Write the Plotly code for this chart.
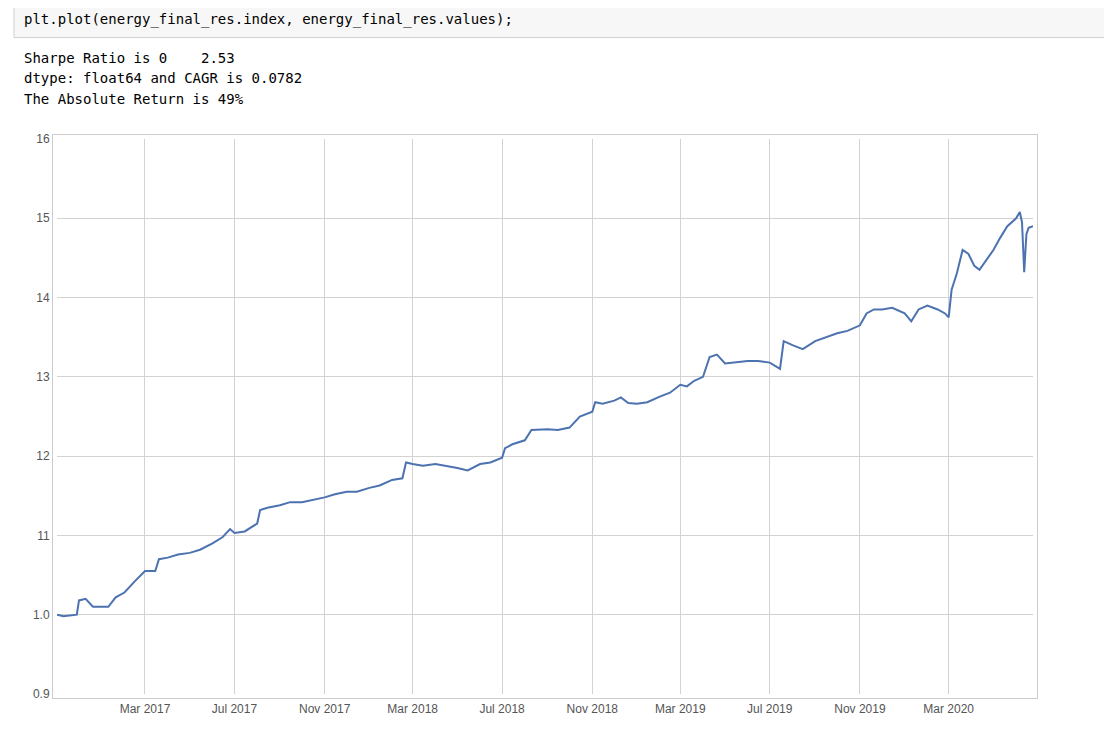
import plotly.graph_objects as go

dates = ["2016-11-01","2016-11-10","2016-11-28","2016-12-01","2016-12-10","2016-12-20","2017-01-01","2017-01-10","2017-01-20","2017-02-01","2017-02-15","2017-03-01","2017-03-15","2017-03-20","2017-04-01","2017-04-15","2017-05-01","2017-05-15","2017-06-01","2017-06-15","2017-06-25","2017-07-01","2017-07-15","2017-08-01","2017-08-05","2017-08-15","2017-09-01","2017-09-15","2017-10-01","2017-10-15","2017-11-01","2017-11-15","2017-12-01","2017-12-15","2018-01-01","2018-01-15","2018-02-01","2018-02-15","2018-02-20","2018-03-01","2018-03-15","2018-04-01","2018-04-15","2018-05-01","2018-05-15","2018-06-01","2018-06-15","2018-07-01","2018-07-05","2018-07-15","2018-08-01","2018-08-10","2018-09-01","2018-09-15","2018-10-01","2018-10-15","2018-11-01","2018-11-05","2018-11-15","2018-12-01","2018-12-10","2018-12-20","2019-01-01","2019-01-15","2019-02-01","2019-02-15","2019-03-01","2019-03-10","2019-03-20","2019-04-01","2019-04-10","2019-04-20","2019-05-01","2019-05-15","2019-06-01","2019-06-15","2019-07-01","2019-07-15","2019-07-20","2019-08-01","2019-08-15","2019-09-01","2019-09-15","2019-10-01","2019-10-15","2019-11-01","2019-11-10","2019-11-20","2019-12-01","2019-12-15","2020-01-01","2020-01-10","2020-01-20","2020-02-01","2020-02-15","2020-02-25","2020-03-01","2020-03-05","2020-03-12","2020-03-20","2020-03-28","2020-04-05","2020-04-12","2020-04-20","2020-04-28","2020-05-01","2020-05-10","2020-05-20","2020-06-01","2020-06-06","2020-06-09","2020-06-12","2020-06-15","2020-06-18","2020-06-24"]
values = [10.0,9.98,10.0,10.18,10.2,10.1,10.1,10.1,10.22,10.28,10.42,10.55,10.55,10.7,10.72,10.76,10.78,10.82,10.9,10.98,11.08,11.03,11.05,11.15,11.32,11.35,11.38,11.42,11.42,11.45,11.48,11.52,11.55,11.55,11.6,11.63,11.7,11.72,11.92,11.9,11.88,11.9,11.88,11.85,11.82,11.9,11.92,11.98,12.1,12.15,12.2,12.33,12.34,12.33,12.36,12.5,12.56,12.68,12.66,12.7,12.74,12.67,12.66,12.68,12.75,12.8,12.9,12.88,12.95,13.0,13.25,13.28,13.17,13.18,13.2,13.2,13.18,13.1,13.45,13.4,13.35,13.45,13.5,13.55,13.58,13.65,13.8,13.85,13.85,13.87,13.8,13.7,13.85,13.9,13.85,13.8,13.75,14.1,14.3,14.6,14.55,14.4,14.35,14.45,14.55,14.6,14.75,14.9,15.0,15.08,14.95,14.32,14.8,14.88,14.9]
y_ticks = [9, 10, 11, 12, 13, 14, 15, 16]
y_tick_labels = ["0.9", "1.0", "11", "12", "13", "14", "15", "16"]
x_ticks = ["2017-03-01","2017-07-01","2017-11-01","2018-03-01","2018-07-01","2018-11-01","2019-03-01","2019-07-01","2019-11-01","2020-03-01"]
x_tick_labels = ["Mar 2017","Jul 2017","Nov 2017","Mar 2018","Jul 2018","Nov 2018","Mar 2019","Jul 2019","Nov 2019","Mar 2020"]

OFF = 8  # page body margin
W, H = 1112 - 2 * OFF, 736 - 2 * OFF
L, R, T, B = 57 - OFF, 1033 - OFF, 139 - OFF, 697 - OFF
def px(x): return (x - OFF - L) / (R - L)
def py(y): return (B - (y - OFF)) / (B - T)

fig = go.Figure(go.Scatter(x=dates, y=values, mode="lines",
                           line=dict(color="#4c72b0", width=2)))
axis_common = dict(showgrid=True, gridcolor="#d3d3d3", gridwidth=1,
                   showline=True, linecolor="#cccccc", linewidth=1, mirror=True,
                   zeroline=False, ticks="", tickfont=dict(family="Liberation Sans", size=12, color="#555555"))
fig.update_xaxes(range=["2016-11-01", "2020-06-24"], tickvals=x_ticks, ticktext=x_tick_labels, **axis_common)
fig.update_yaxes(range=[9, 16], tickvals=y_ticks, ticktext=y_tick_labels, **axis_common)

mono = dict(family="DejaVu Sans Mono", size=14, color="#000000")
fig.update_layout(
    width=W, height=H, showlegend=False,
    paper_bgcolor="white", plot_bgcolor="white",
    margin=dict(l=L, r=W - R, t=T, b=H - B, pad=4),
    shapes=[dict(type="rect", xref="paper", yref="paper",
                 x0=px(14), x1=px(1111), y0=py(37), y1=py(0),
                 fillcolor="#f7f7f7", line=dict(color="#cfcfcf", width=1), layer="below")],
    annotations=[
        dict(xref="paper", yref="paper", x=px(22), y=py(19), text="plt.plot(energy_final_res.index, energy_final_res.values);",
             showarrow=False, xanchor="left", yanchor="middle", font=mono),
        dict(xref="paper", yref="paper", x=px(22), y=py(58), text="Sharpe Ratio is 0    2.53",
             showarrow=False, xanchor="left", yanchor="middle", font=mono),
        dict(xref="paper", yref="paper", x=px(22), y=py(78), text="dtype: float64 and CAGR is 0.0782",
             showarrow=False, xanchor="left", yanchor="middle", font=mono),
        dict(xref="paper", yref="paper", x=px(22), y=py(99), text="The Absolute Return is 49%",
             showarrow=False, xanchor="left", yanchor="middle", font=mono),
    ],
)
fig.write_html("out.html")
